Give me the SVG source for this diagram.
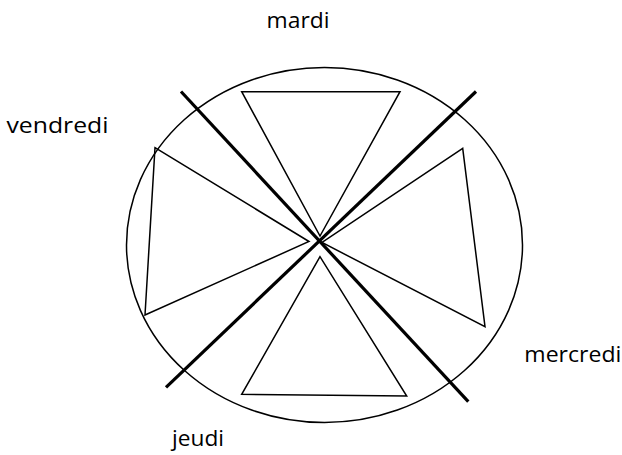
<svg xmlns="http://www.w3.org/2000/svg" width="622" height="455" viewBox="0 0 622 455">
<style>
.thin{fill:none;stroke:#000;stroke-width:1.5;stroke-linejoin:miter}
.thick{fill:none;stroke:#000;stroke-width:3.2}
.lbl{font-family:"Open Sans","Liberation Sans",sans-serif;font-size:22px;fill:#000}
</style>
<rect width="622" height="455" fill="#fff"/>
<g id="circle"><ellipse class="thin" cx="324.5" cy="245" rx="198" ry="177.5"/></g>
<g id="tri-top"><polygon class="thin" points="241.7,91.7 400,91.7 320,236"/></g>
<g id="tri-right"><polygon class="thin" points="462.7,148.3 322,242.5 485,326.7"/></g>
<g id="tri-left"><polygon class="thin" points="155,147.7 309,241.5 145,315"/></g>
<g id="tri-bottom"><polygon class="thin" points="320,256.7 241.7,394.3 406.7,396"/></g>
<g id="connectors">
<line class="thick" x1="181" y1="91.5" x2="468.3" y2="401.7"/>
<line class="thick" x1="476" y1="91.5" x2="166" y2="387.3"/>
</g>
<g id="labels">
<text class="lbl" x="266.5" y="27.7" textLength="63" lengthAdjust="spacingAndGlyphs">mardi</text>
<text class="lbl" x="6.5" y="133.3" textLength="102" lengthAdjust="spacingAndGlyphs">vendredi</text>
<text class="lbl" x="524.3" y="362.3" textLength="97" lengthAdjust="spacingAndGlyphs">mercredi</text>
<text class="lbl" x="172" y="446" textLength="52" lengthAdjust="spacingAndGlyphs">jeudi</text>
</g>
</svg>
